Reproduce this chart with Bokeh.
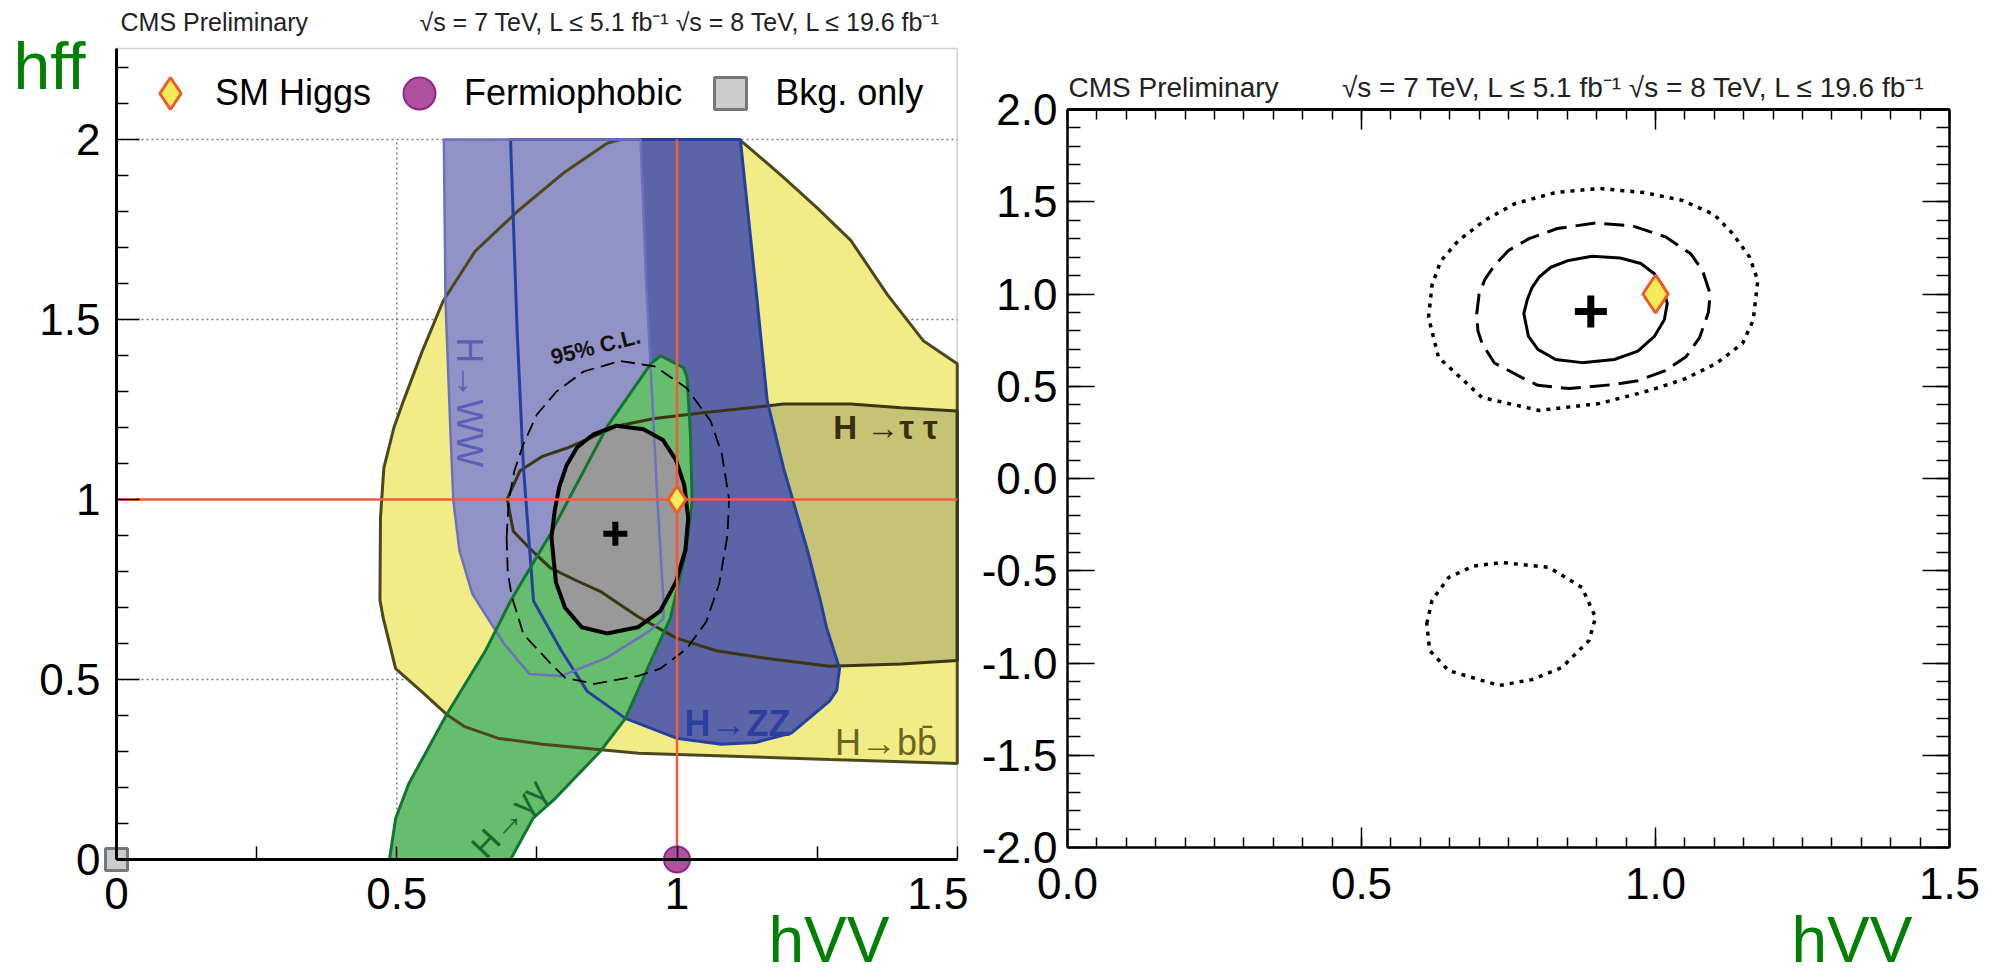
import math
from bokeh.plotting import figure
from bokeh.layouts import row
from bokeh.models import (Range1d, FixedTicker, PrintfTickFormatter, Label, Legend,
                          LegendItem, LinearAxis, BoxAnnotation)
from bokeh.embed import file_html
from bokeh.resources import INLINE

FONT = "Liberation Sans"

# ---------------- data ----------------
# H -> bb (yellow region)
hbb_x = [0.470, 0.471, 0.477, 0.495, 0.512, 0.545, 0.583, 0.640, 0.715, 0.800, 0.876, 0.900,
         1.110, 1.119, 1.190, 1.250, 1.310, 1.375, 1.440, 1.500, 1.500, 1.272, 0.931, 0.760,
         0.680, 0.620, 0.589, 0.544, 0.498, 0.476]
hbb_y = [0.720, 0.950, 1.088, 1.200, 1.274, 1.410, 1.552, 1.690, 1.800, 1.910, 1.990, 2.000,
         2.000, 1.990, 1.895, 1.810, 1.720, 1.570, 1.440, 1.377, 0.267, 0.278, 0.295, 0.320,
         0.337, 0.370, 0.403, 0.467, 0.530, 0.670]
# H -> tau tau (olive region)
htt_x = [0.697, 0.720, 0.760, 0.804, 0.893, 0.960, 1.042, 1.190, 1.310, 1.400, 1.500, 1.500,
         1.400, 1.272, 1.158, 1.070, 0.999, 0.930, 0.863, 0.820, 0.774, 0.740, 0.708]
htt_y = [1.001, 1.080, 1.120, 1.143, 1.204, 1.225, 1.240, 1.265, 1.265, 1.255, 1.246, 0.553,
         0.543, 0.537, 0.559, 0.580, 0.615, 0.675, 0.745, 0.775, 0.810, 0.860, 0.912]
# H -> ZZ (dark blue region)
hzz_x = [0.703, 1.113, 1.143, 1.161, 1.190, 1.233, 1.256, 1.267, 1.290, 1.285, 1.272, 1.204,
         1.140, 1.079, 0.999, 0.908, 0.840, 0.794, 0.744, 0.726, 0.715]
hzz_y = [2.000, 2.000, 1.552, 1.274, 1.088, 0.857, 0.718, 0.643, 0.531, 0.470, 0.440, 0.351,
         0.325, 0.320, 0.337, 0.392, 0.467, 0.579, 0.718, 1.090, 1.460]
# H -> WW (light blue region)
hww_x = [0.584, 0.935, 0.940, 0.945, 0.953, 0.965, 0.976, 0.976, 0.955, 0.931, 0.874, 0.794,
         0.737, 0.692, 0.635, 0.612, 0.601, 0.596, 0.587]
hww_y = [2.000, 2.000, 1.800, 1.600, 1.366, 1.000, 0.718, 0.670, 0.640, 0.615, 0.560, 0.510,
         0.515, 0.598, 0.737, 0.857, 0.996, 1.180, 1.550]
# H -> gamma gamma (green region)
hgg_x = [0.487, 0.703, 0.743, 0.783, 0.863, 0.908, 0.953, 0.988, 1.016, 1.027, 1.024, 1.018,
         1.012, 0.971, 0.953, 0.876, 0.774, 0.703, 0.658, 0.589, 0.521, 0.498]
hgg_y = [0.000, 0.000, 0.114, 0.170, 0.300, 0.392, 0.550, 0.670, 0.857, 0.996, 1.180, 1.338,
         1.366, 1.399, 1.377, 1.204, 0.904, 0.718, 0.579, 0.403, 0.209, 0.114]
# combined fit contours
cl68_x = [0.776, 0.782, 0.790, 0.803, 0.822, 0.850, 0.892, 0.940, 0.975, 0.998, 1.013, 1.020,
          1.015, 0.998, 0.970, 0.930, 0.875, 0.830, 0.800, 0.784]
cl68_y = [0.894, 0.970, 1.035, 1.095, 1.145, 1.180, 1.205, 1.195, 1.165, 1.110, 1.040, 0.948,
          0.860, 0.770, 0.690, 0.645, 0.628, 0.645, 0.700, 0.770]
cl95_x = [0.696, 0.700, 0.710, 0.726, 0.750, 0.785, 0.833, 0.898, 0.960, 1.017, 1.060, 1.080,
          1.093, 1.090, 1.075, 1.052, 1.017, 0.970, 0.931, 0.853, 0.800, 0.773, 0.726, 0.705,
          0.698]
cl95_y = [0.894, 1.000, 1.080, 1.154, 1.236, 1.300, 1.355, 1.385, 1.370, 1.310, 1.218, 1.127,
          1.000, 0.900, 0.764, 0.660, 0.585, 0.530, 0.510, 0.488, 0.505, 0.547, 0.626, 0.732,
          0.800]
cl997_x = [0.614, 0.620, 0.635, 0.665, 0.710, 0.761, 0.830, 0.904, 0.980, 1.046, 1.100, 1.131,
           1.160, 1.174, 1.166, 1.148, 1.103, 1.050, 0.990, 0.904, 0.802, 0.705, 0.631]
cl997_y = [0.873, 1.050, 1.180, 1.290, 1.400, 1.490, 1.550, 1.572, 1.550, 1.507, 1.430, 1.328,
           1.200, 1.073, 0.856, 0.732, 0.623, 0.540, 0.477, 0.406, 0.369, 0.439, 0.656]
cl997b_x = [0.611, 0.620, 0.648, 0.690, 0.739, 0.819, 0.875, 0.898, 0.887, 0.841, 0.790, 0.734,
            0.648, 0.616]
cl997b_y = [-0.786, -0.660, -0.537, -0.475, -0.455, -0.482, -0.591, -0.753, -0.878, -1.024,
            -1.090, -1.122, -1.041, -0.932]
best_fit_x, best_fit_y = [0.89], [0.905]
sm_x, sm_y = [1.0], [1.0]
fermio_x, fermio_y = [1.0], [0.0]
bkg_x, bkg_y = [0.0], [0.0]
legend_labels = ["SM Higgs", "Fermiophobic", "Bkg. only"]
left_x_ticks = [0.0, 0.5, 1.0, 1.5]
left_y_ticks = [0.0, 0.5, 1.0, 1.5, 2.0]
left_x_grid = [0.5, 1.0]
left_y_grid = [0.5, 1.0, 1.5, 2.0]
right_x_ticks = [0.0, 0.5, 1.0, 1.5]
right_y_ticks = [-2.0, -1.5, -1.0, -0.5, 0.0, 0.5, 1.0, 1.5, 2.0]
header_cms = "CMS Preliminary"
header_lumi = "\u221as = 7 TeV, L \u2264 5.1 fb\u207b\u00b9  \u221as = 8 TeV, L \u2264 19.6 fb\u207b\u00b9"

# axis extents of the two panels
L_XLO, L_XHI, L_YLO, L_YHI, L_CONTENT_TOP = 0.0, 1.5, 0.0, 2.253, 2.0
R_XLO, R_XHI, R_YLO, R_YHI = 0.0, 1.5, -2.0, 2.0

RED = "#f25a3c"
H = 977


def style_axis(ax, ticks, minor, fmt, major_in, minor_in, size="44px", standoff=16, lw=2.0,
               show_labels=True):
    ax.ticker = FixedTicker(ticks=ticks, minor_ticks=minor)
    ax.formatter = PrintfTickFormatter(format=fmt)
    ax.major_tick_in = major_in
    ax.major_tick_out = 0
    ax.minor_tick_in = minor_in
    ax.minor_tick_out = 0
    ax.major_tick_line_color = "black"
    ax.minor_tick_line_color = "black"
    ax.major_tick_line_width = 1.5
    ax.minor_tick_line_width = 1.5
    ax.axis_line_color = "black"
    ax.axis_line_width = lw
    ax.major_label_text_font = FONT
    ax.major_label_text_font_size = size
    ax.major_label_text_color = "black"
    ax.major_label_standoff = standoff
    if not show_labels:
        ax.major_label_text_alpha = 0


def lab(p, x, y, text, size, color="black", angle=0.0, style="normal", align="center",
        baseline="middle", units="data"):
    p.add_layout(Label(x=x, y=y, x_units=units, y_units=units, text=text, angle=angle,
                       text_font=FONT, text_font_size=size, text_color=color,
                       text_font_style=style, text_align=align, text_baseline=baseline))


def screen_text(p, x, base_from_top, text, px, color, align="left"):
    # place text by its baseline, measured in canvas pixels from the top
    lab(p, x, H - base_from_top + 0.37 * px, text, f"{px}px", color, align=align,
        baseline="alphabetic", units="screen")


# ---------------- left panel ----------------
W1 = 968
LX0, LPX = 116.0, 560.5      # canvas pixel of x=0, pixels per unit
LY0, LPY = 859.0, 360.0      # canvas pixel of y=0, pixels per unit
p1 = figure(width=W1, height=H,
            x_range=Range1d(-LX0 / LPX, (W1 - LX0) / LPX),
            y_range=Range1d(-(H - LY0) / LPY, LY0 / LPY),
            x_axis_type=None, y_axis_type=None,
            output_backend="svg", toolbar_location=None,
            min_border_left=0, min_border_right=0, min_border_top=0, min_border_bottom=0)
p1.outline_line_color = None
p1.background_fill_color = "white"
p1.border_fill_color = "white"

p1.add_layout(BoxAnnotation(left=L_XLO, right=L_XHI, bottom=L_YLO, top=L_YHI, fill_color=None,
                            line_color="#666666", line_width=1.5, level="underlay"))
GRID = dict(line_color="#808080", line_dash="2 3", line_width=1.5)
p1.segment(x0=left_x_grid, y0=[L_YLO] * len(left_x_grid), x1=left_x_grid,
           y1=[L_CONTENT_TOP] * len(left_x_grid), **GRID)
p1.segment(x0=[L_XLO] * len(left_y_grid), y0=left_y_grid, x1=[L_XHI] * len(left_y_grid),
           y1=left_y_grid, **GRID)

xax1 = LinearAxis(fixed_location=L_YLO, bounds=(L_XLO, L_XHI))
style_axis(xax1, left_x_ticks, [0.25, 0.75, 1.25], "%g", 13, 13, standoff=18, lw=3)
p1.add_layout(xax1, "below")
yax1 = LinearAxis(fixed_location=L_XLO, bounds=(L_YLO, L_YHI))
style_axis(yax1, left_y_ticks, [round(0.1 * i, 1) for i in range(1, 23) if i % 5], "%g",
           23, 12, standoff=16, lw=3)
p1.add_layout(yax1, "left")

regions = [
    (hbb_x, hbb_y, "#f1ec85", "#4c481c", 3),
    (htt_x, htt_y, "#c6c375", "#3a3614", 3),
    (hzz_x, hzz_y, "#5c64a8", "#2540a0", 3),
    (hww_x, hww_y, "#9193c6", "#6e70bd", 2.5),
    (hgg_x, hgg_y, "#66bd6d", "#127534", 3),
    (cl68_x, cl68_y, "#999999", "black", 4),
]
for xs, ys, fc, lc, lw in regions:
    p1.patch(xs, ys, fill_color=fc, line_color=None)
for xs, ys, fc, lc, lw in regions:
    p1.patch(xs, ys, fill_color=None, line_color=lc, line_width=lw)
p1.patch(cl95_x, cl95_y, fill_color=None, line_color="black", line_width=1.8, line_dash="14 7")

p1.segment(x0=[L_XLO], y0=sm_y, x1=[L_XHI], y1=sm_y, line_color=RED, line_width=2.5)
p1.segment(x0=sm_x, y0=fermio_y, x1=sm_x, y1=[L_CONTENT_TOP], line_color=RED, line_width=2.5)

p1.scatter(best_fit_x, best_fit_y, marker="cross", size=24, line_width=6, line_color="black")
r_sm = p1.scatter(sm_x, sm_y, marker="diamond", size=27, fill_color="#f2ec5a",
                  line_color="#f05a28", line_width=3)
r_fp = p1.scatter(fermio_x, fermio_y, marker="circle", size=26, fill_color="#b0509f",
                  line_color="#8a2a85", line_width=2)
r_bk = p1.scatter(bkg_x, bkg_y, marker="square", size=22, fill_color="#cccccc",
                  line_color="#777777", line_width=3)

legend = Legend(items=[LegendItem(label=legend_labels[0], renderers=[r_sm]),
                       LegendItem(label=legend_labels[1], renderers=[r_fp]),
                       LegendItem(label=legend_labels[2], renderers=[r_bk])],
                orientation="horizontal", location=(130, H - 133), glyph_width=80,
                glyph_height=80, label_standoff=5, spacing=8, padding=0, margin=0,
                border_line_alpha=0, background_fill_alpha=0,
                label_text_font=FONT, label_text_font_size="36px", label_text_color="black")
p1.add_layout(legend, "center")

lab(p1, 0.63, 1.27, "H\u2192WW", "36px", "#5a5fb5", angle=-math.pi / 2)
lab(p1, 0.855, 1.425, "95% C.L.", "22px", "#111111", angle=math.radians(14), style="bold")
lab(p1, 1.372, 1.20, "H \u2192\u03c4 \u03c4", "33px", "#35300e", style="bold")
lab(p1, 1.108, 0.378, "H\u2192ZZ", "36px", "#2c3f9e", style="bold")
lab(p1, 1.373, 0.325, "H\u2192bb\u0304", "36px", "#6b6521")
lab(p1, 0.70, 0.115, "H\u2192\u03b3\u03b3", "34px", "#136b2b", angle=math.radians(47))

screen_text(p1, 13, 90, "hff", 66, "#008000")
screen_text(p1, 768, 963, "hVV", 64, "#008000")
screen_text(p1, 120, 31, header_cms, 25, "#222222")
screen_text(p1, 948, 31, header_lumi, 25, "#222222", align="right")

# ---------------- right panel ----------------
W2 = 1034
RX0, RPX = 99.0, 588.0        # canvas pixel of x=0, pixels per unit
RYT, RPY = 109.0, 184.5       # canvas pixel of y=2 (top), pixels per unit
p2 = figure(width=W2, height=H,
            x_range=Range1d(-RX0 / RPX, (W2 - RX0) / RPX),
            y_range=Range1d(R_YHI - (H - RYT) / RPY, R_YHI + RYT / RPY),
            x_axis_type=None, y_axis_type=None,
            output_backend="svg", toolbar_location=None,
            min_border_left=0, min_border_right=0, min_border_top=0, min_border_bottom=0)
p2.outline_line_color = None
p2.background_fill_color = "white"
p2.border_fill_color = "white"

x_minor = [round(0.05 * i, 2) for i in range(31)]
y_minor = [round(-2 + 0.1 * i, 1) for i in range(41)]
bx = LinearAxis(fixed_location=R_YLO, bounds=(R_XLO, R_XHI))
style_axis(bx, right_x_ticks, x_minor, "%.1f", 20, 10, standoff=20, lw=2.5)
p2.add_layout(bx, "below")
lx = LinearAxis(fixed_location=R_XLO, bounds=(R_YLO, R_YHI))
style_axis(lx, right_y_ticks, y_minor, "%.1f", 27, 13, standoff=10, lw=2.5)
p2.add_layout(lx, "left")
tx = LinearAxis(fixed_location=R_YHI, bounds=(R_XLO, R_XHI))
style_axis(tx, right_x_ticks, x_minor, "%.1f", 20, 10, size="10px", standoff=0, lw=3,
           show_labels=False)
p2.add_layout(tx, "above")
rx = LinearAxis(fixed_location=R_XHI, bounds=(R_YLO, R_YHI))
style_axis(rx, right_y_ticks, y_minor, "%.1f", 27, 13, size="10px", standoff=0, lw=2.5,
           show_labels=False)
p2.add_layout(rx, "right")

p2.patch(cl997_x, cl997_y, fill_color=None, line_color="black", line_width=3.5, line_dash="4 6")
p2.patch(cl997b_x, cl997b_y, fill_color=None, line_color="black", line_width=3.5,
         line_dash="4 6")
p2.patch(cl95_x, cl95_y, fill_color=None, line_color="black", line_width=3, line_dash="20 9")
p2.patch(cl68_x, cl68_y, fill_color=None, line_color="black", line_width=3)
p2.scatter(best_fit_x, best_fit_y, marker="cross", size=32, line_width=7, line_color="black")
p2.scatter(sm_x, sm_y, marker="diamond", size=38, fill_color="#f2ec5a",
           line_color="#f05a28", line_width=3)

screen_text(p2, 100, 97, header_cms, 28, "#222222")
screen_text(p2, 966, 97, header_lumi, 28, "#222222", align="right")
screen_text(p2, 823, 963, "hVV", 64, "#008000")

layout = row(p1, p2)
open("out.html", "w").write(file_html(layout, INLINE))
